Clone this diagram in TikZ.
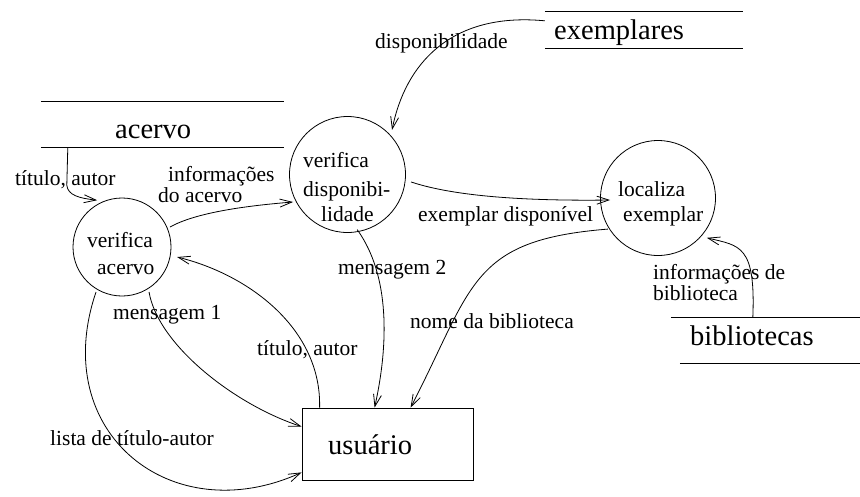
\documentclass[tikz,border=0pt]{standalone}
\usepackage{fontspec}
\setmainfont{Liberation Serif}
\usetikzlibrary{arrows.meta}
\begin{document}
\begin{tikzpicture}[x=1pt,y=-1pt,
  flow/.style={line width=0.8pt, -{Straight Barb[length=12pt,width=8pt]}},
  process/.style={draw, circle, line width=0.8pt, inner sep=0pt},
  entity/.style={draw, rectangle, line width=0.8pt, inner sep=0pt},
  store/.style={rectangle, inner sep=0pt},
  storeline/.style={line width=0.8pt},
  lbl/.style={font=\fontsize{21.5}{22}\selectfont, inner sep=0pt, anchor=base west},
  lbltwo/.style={font=\fontsize{21.5}{17.5}\selectfont, inner sep=0pt, align=left, anchor=base west},
  big/.style={font=\fontsize{28.5}{30}\selectfont, inner sep=0pt, anchor=base west}]
\useasboundingbox (0,0) rectangle (860,496);

% processes
\node[process, minimum size=98pt]  (va) at (122,247) {};
\node[process, minimum size=116pt] (vd) at (347.5,174.5) {};
\node[process, minimum size=115pt] (le) at (658,198) {};
\node[lbl] (vaA) at (87,247) {verifica};
\node[lbl] (vaB) at (97,274) {acervo};
\node[lbl] (vdA) at (303,167) {verifica};
\node[lbl] (vdB) at (303,196) {disponibi-};
\node[lbl] (vdC) at (321,221) {lidade};
\node[lbl] (leA) at (618,196) {localiza};
\node[lbl] (leB) at (623,221) {exemplar};

% external entity
\node[entity, minimum width=171pt, minimum height=72pt] (us) at (387.5,444) {};
\node[big] (usT) at (328,454) {usuário};

% data stores
\node[store, minimum width=243pt, minimum height=45pt] (acervo) at (162.5,124.5) {};
\draw[storeline] (acervo.north west) -- (acervo.north east)
                 (acervo.south west) -- (acervo.south east);
\node[big] (acervoT) at (115,138) {acervo};

\node[store, minimum width=198pt, minimum height=36pt] (exem) at (644,30) {};
\draw[storeline] (exem.north west) -- (exem.north east)
                 (exem.south west) -- (exem.south east);
\node[big] (exemT) at (554,39) {exemplares};

\node[store, minimum width=189pt, minimum height=45pt] (bib) at (765.5,340.5) {};
\draw[storeline] (bib.north west) -- (bib.north east)
                 ([xshift=9pt]bib.south west) -- (bib.south east);
\node[big] (bibT) at (690,345) {bibliotecas};

% flows (two-line labels are placed by the baseline of their last line)
\draw[flow] ([xshift=27pt]acervo.south west) -- ++(-1,38)
  .. controls +(1,10) and +(-18,-2) .. ([shift={(118:53pt)}]va.center);
\node[lbl] (f1) at (15,185) {título, autor};

\draw[flow] ([shift={(22.6:52pt)}]va.center)
  .. controls +(25,-14) and +(-50,4) .. ([shift={(206.8:61pt)}]vd.center);
\node[lbltwo] (f2) at (158,202) {\hspace*{10pt}informações\\do acervo};

\draw[flow] ([yshift=-9pt]exem.north west)
  .. controls +(-95,-9) and +(13,-65) .. ([shift={(45:63pt)}]vd.center);
\node[lbl] (f3) at (375,48) {disponibilidade};

\draw[flow] ([shift={(-6.7:64pt)}]vd.center)
  .. controls +(45,15) and +(-80,1) .. ([shift={(182.4:48pt)}]le.center);
\node[lbl] (f4) at (418,221) {exemplar disponível};

\draw[flow] ([xshift=82pt]bib.north west)
  .. controls +(3,-73) and +(33,8) .. ([shift={(-39.2:63pt)}]le.center);
\node[lbltwo] (f5) at (653,300) {informações de\\biblioteca};

\draw[flow] ([shift={(211.8:59pt)}]le.center)
  .. controls +(-138,11) and +(63,-122) .. ([xshift=109pt]us.north west);
\node[lbl] (f6) at (410,328) {nome da biblioteca};

\draw[flow] ([shift={(-80:56pt)}]vd.center)
  .. controls +(33,46) and +(14,-63) .. ([xshift=73pt]us.north west);
\node[lbl] (f7) at (338,274) {mensagem 2};

\draw[flow] ([xshift=18pt]us.north west)
  .. controls +(2,-78) and +(73,18) .. ([shift={(-10.3:56pt)}]va.center);
\node[lbl] (f8) at (257,355) {título, autor};

\draw[flow] ([shift={(-59:52.5pt)}]va.center)
  .. controls +(9,53) and +(-67,-22) .. ([yshift=-19pt]us.north west);
\node[lbl] (f9) at (113,319) {mensagem 1};

\draw[flow] ([shift={(240:52pt)}]va.center)
  .. controls +(-48,141) and +(-130,59) .. ([yshift=8pt]us.south west);
\node[lbl] (f10) at (50,445) {lista de título-autor};
\end{tikzpicture}
\end{document}
